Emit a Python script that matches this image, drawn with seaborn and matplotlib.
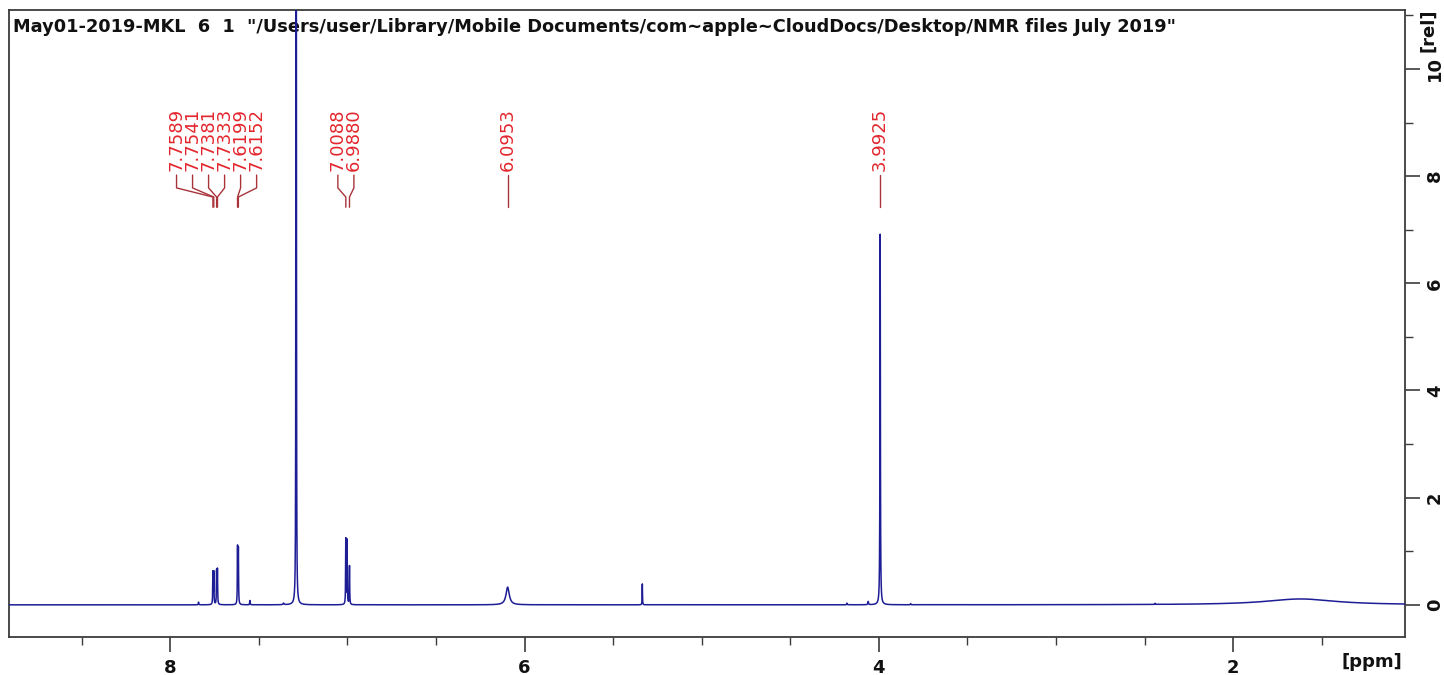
import numpy as np
import pandas as pd
import matplotlib
matplotlib.use("Agg")
import matplotlib.pyplot as plt
from matplotlib.ticker import MultipleLocator
import seaborn as sns

# ---- spectrum data: line positions (ppm), heights (rel) and half widths (ppm)
line_ppm = [7.8400, 7.7589, 7.7541, 7.7381, 7.7333, 7.6199, 7.6152, 7.5500,
            7.3600, 7.2900, 7.2880, 7.0088, 7.0015, 6.9880, 6.0953, 5.3350,
            4.1800, 4.0600, 3.9925, 3.8200, 2.4400, 1.6200]
line_height = [0.05, 0.60, 0.60, 0.63, 0.65, 1.06, 1.02, 0.08,
               0.03, 12.50, 9.65, 1.22, 1.20, 0.72, 0.33, 0.39,
               0.03, 0.06, 6.95, 0.02, 0.02, 0.11]
line_width = [0.0015, 0.0012, 0.0012, 0.0012, 0.0012, 0.0012, 0.0012, 0.0015,
              0.0030, 0.0010, 0.0010, 0.0012, 0.0012, 0.0012, 0.0110, 0.0010,
              0.0015, 0.0020, 0.0014, 0.0015, 0.0015, 0.2400]

# ---- peak picking labels
label_groups = [
    [7.7589, 7.7541, 7.7381, 7.7333, 7.6199, 7.6152],
    [7.0088, 6.9880],
    [6.0953],
    [3.9925],
]

title = ('May01-2019-MKL  6  1  "/Users/user/Library/Mobile Documents/'
         'com~apple~CloudDocs/Desktop/NMR files July 2019"')

x_major = [2, 4, 6, 8]
y_major = [0, 2, 4, 6, 8, 10]

# ---- build the spectrum from the line list (Lorentzian line shapes)
ppm = np.arange(1.0, 8.95, 0.0002)
intensity = np.zeros_like(ppm)
for p, h, w in zip(line_ppm, line_height, line_width):
    intensity += h * w**2 / (w**2 + (ppm - p) ** 2)
spec = pd.DataFrame({"ppm": ppm, "intensity": intensity})

sns.set_style("white")
plt.rcParams["font.family"] = ["DejaVu Sans"]

W, H = 1444, 675
fig = plt.figure(figsize=(W / 100, H / 100), dpi=100)
ax = fig.add_axes([9 / W, 38 / H, (1405 - 9) / W, (637 - 10) / H])

sns.lineplot(data=spec, x="ppm", y="intensity", ax=ax, color="#1d1d96",
             lw=1.1, estimator=None, sort=False, zorder=3)

ax.set_xlim(8.91, 1.03)
ax.set_ylim(-0.6, 11.1)
ax.set_xlabel("")
ax.set_ylabel("")

# frame
for s in ax.spines.values():
    s.set_color("#3c3c3c")
    s.set_linewidth(1.3)

# x axis ticks
ax.set_xticks(x_major)
ax.set_xticklabels([str(v) for v in x_major], fontweight="bold", fontsize=13)
ax.xaxis.set_minor_locator(MultipleLocator(0.5))
ax.tick_params(axis="x", which="major", direction="out", length=11, width=1.2,
               color="#3c3c3c", labelcolor="#111111", pad=5, bottom=True)
ax.tick_params(axis="x", which="minor", direction="out", length=6, width=1.0,
               color="#3c3c3c", bottom=True)

# y axis on the right
ax.yaxis.tick_right()
ax.set_yticks(y_major)
ax.set_yticklabels([str(v) for v in y_major], fontweight="bold", fontsize=13,
                   rotation=90, va="center")
ax.yaxis.set_minor_locator(MultipleLocator(1))
ax.tick_params(axis="y", which="major", direction="out", length=11, width=1.2,
               color="#3c3c3c", labelcolor="#111111", pad=4, right=True,
               left=False)
ax.tick_params(axis="y", which="minor", direction="out", length=6, width=1.0,
               color="#3c3c3c", right=True, left=False)

fig.text(1402 / W, 1 - 662 / H, "[ppm]", ha="right", va="center",
         fontweight="bold", fontsize=13, color="#111111")
fig.text(1428 / W, 1 - 30 / H, "[rel]", ha="center", va="center",
         rotation=90, fontweight="bold", fontsize=13, color="#111111")

# title inside the frame
ax.text(0.003, 0.988, title, transform=ax.transAxes, ha="left", va="top",
        fontweight="bold", fontsize=12.8, color="#111111", zorder=1)

# ---- peak labels with connector lines
px_per_ppm = 177.0
label_pitch = 16.0 / px_per_ppm       # spacing of label columns in ppm
y_text, y_a, y_b, y_c, y_d = 8.10, 8.02, 7.78, 7.61, 7.42
for group in label_groups:
    n = len(group)
    centre = np.mean(group) + (0.035 if n > 2 else 0.01 if n == 2 else 0.0)
    for i, p in enumerate(group):
        lx = centre + label_pitch * ((n - 1) / 2 - i)
        ax.text(lx, y_text, f"{p:.4f}", rotation=90, ha="center", va="bottom",
                color="#e3262d", fontsize=13, zorder=4)
        ax.plot([lx, lx, p, p], [y_a, y_b, y_c, y_d], color="#a8343a",
                lw=1.0, zorder=4)

fig.savefig("out.png", dpi=100)
